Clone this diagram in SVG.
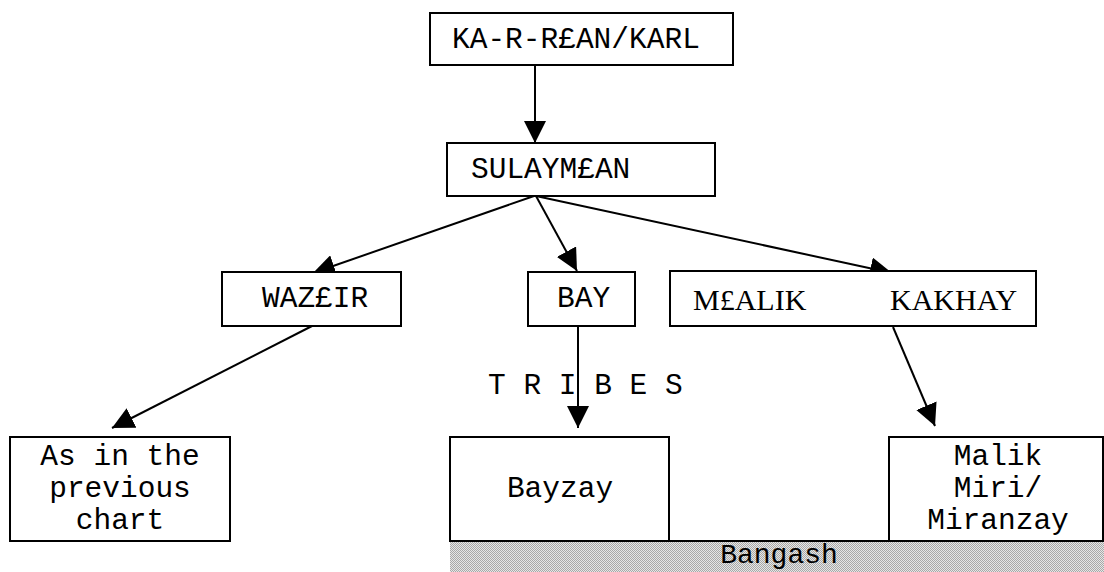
<svg xmlns="http://www.w3.org/2000/svg" width="1104" height="572" viewBox="0 0 1104 572">
<defs>
<style>
.box{fill:#fff;stroke:#000;stroke-width:2}
.mono{font-family:"Liberation Mono","Courier New",monospace;font-size:29.5px;fill:#000}
.serif{font-family:"Liberation Serif","Times New Roman",serif;font-size:30px;fill:#000}
.edge{stroke:#000;stroke-width:2;fill:none;marker-end:url(#arr)}
</style>
<marker id="arr" markerUnits="userSpaceOnUse" markerWidth="22" markerHeight="22" refX="20" refY="10" orient="auto" viewBox="0 0 20 20">
<path d="M0,0 L20,10 L0,20 z" fill="#000"/>
</marker>
<pattern id="stip" width="2" height="2" patternUnits="userSpaceOnUse">
<rect width="2" height="2" fill="#e6e6e6"/>
<rect x="0" y="0" width="1" height="1" fill="#a8a8a8"/>
<rect x="1" y="1" width="1" height="1" fill="#a8a8a8"/>
</pattern>
</defs>
<rect width="1104" height="572" fill="#fff"/>

<g id="connectors">
<line class="edge" x1="535" y1="65" x2="535" y2="143"/>
<line class="edge" x1="534" y1="196" x2="313" y2="273"/>
<line class="edge" x1="536" y1="196" x2="577" y2="271"/>
<line class="edge" x1="536" y1="196" x2="892" y2="273"/>
<line class="edge" x1="312" y1="326" x2="112" y2="428"/>
<line class="edge" x1="578" y1="326" x2="578" y2="428"/>
<line class="edge" x1="893" y1="327" x2="935" y2="426"/>
</g>

<g id="node-karl">
<rect class="box" x="430" y="13" width="303" height="52"/>
<text class="mono" x="452" y="48">KA-R-R£AN/KARL</text>
</g>

<g id="node-sulayman">
<rect class="box" x="447" y="143" width="268" height="53"/>
<text class="mono" x="471" y="178">SULAYM£AN</text>
</g>

<g id="node-wazir">
<rect class="box" x="222" y="272" width="179" height="54"/>
<text class="mono" x="262" y="307">WAZ£IR</text>
</g>

<g id="node-bay">
<rect class="box" x="528" y="272" width="107" height="54"/>
<text class="mono" x="557" y="307">BAY</text>
</g>

<g id="node-malik-kakhay">
<rect class="box" x="670" y="271" width="366" height="55"/>
<text class="serif" x="693" y="310">M£ALIK</text>
<text class="serif" x="890" y="310">KAKHAY</text>
</g>

<g id="label-tribes">
<text class="mono" x="488" y="394">T R I B E S</text>
</g>

<g id="node-previous">
<rect class="box" x="10" y="437" width="220" height="104"/>
<text class="mono" text-anchor="middle" x="120" y="465">As in the</text>
<text class="mono" text-anchor="middle" x="120" y="497">previous</text>
<text class="mono" text-anchor="middle" x="120" y="529">chart</text>
</g>

<g id="node-bayzay">
<rect class="box" x="450" y="437" width="219" height="104"/>
<text class="mono" text-anchor="middle" x="560" y="497">Bayzay</text>
</g>

<g id="node-malik-miri">
<rect class="box" x="889" y="437" width="214" height="104"/>
<text class="mono" text-anchor="middle" x="998" y="465">Malik</text>
<text class="mono" text-anchor="middle" x="998" y="497">Miri/</text>
<text class="mono" text-anchor="middle" x="998" y="529">Miranzay</text>
</g>

<g id="node-bangash">
<rect x="450" y="541" width="654" height="31" fill="url(#stip)"/>
<line x1="450" y1="541" x2="1104" y2="541" stroke="#000" stroke-width="2"/>
<text class="mono" text-anchor="middle" x="779" y="563" style="font-size:28px">Bangash</text>
</g>
</svg>
